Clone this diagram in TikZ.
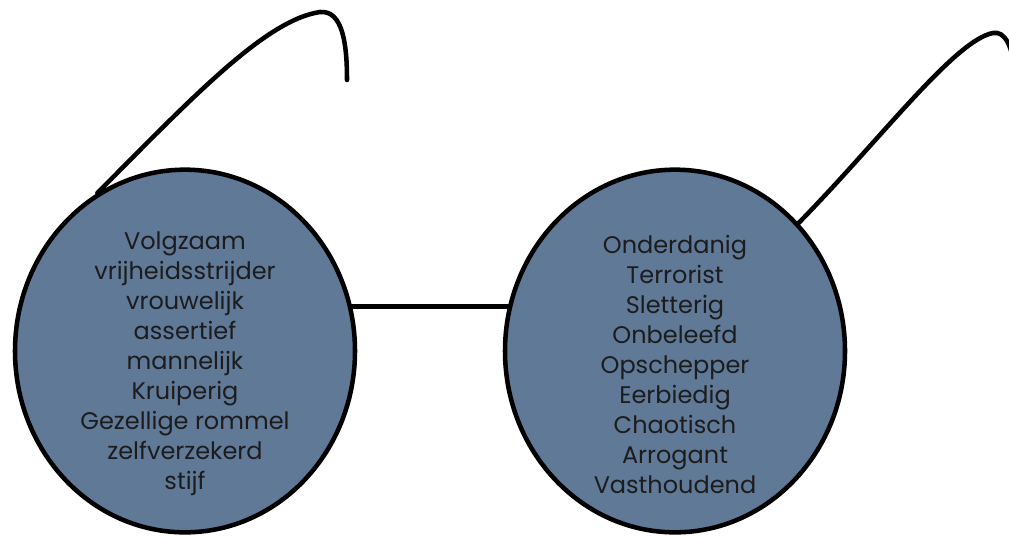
\documentclass[tikz,border=0pt]{standalone}
\usepackage{fontspec}
\setmainfont{Poppins}
\usetikzlibrary{shapes.geometric}
\definecolor{lensblue}{RGB}{96,121,150}
\definecolor{inkgray}{RGB}{28,28,30}
\tikzstyle{lens}=[ellipse,draw,line width=3.4pt,fill=lensblue,minimum width=255pt,minimum height=272pt,inner sep=0pt]
\tikzstyle{words}=[align=center,text=inkgray,font=\fontsize{18}{22.5}\selectfont,inner sep=0pt]
\tikzstyle{wire}=[line width=3.4pt,line cap=round]

\begin{document}
\begin{tikzpicture}[x=0.75pt,y=-0.75pt]
\useasboundingbox (0,0) rectangle (1009,537);
\clip (0,0) rectangle (1009,537);
\node[lens] at (185, 351) (lensL) {};
\node[lens] at (675, 351) (lensR) {};
\node[words] at (185, 364) (wordsL) {Volgzaam\\vrijheidsstrijder\\vrouwelijk\\assertief\\mannelijk\\Kruiperig\\Gezellige rommel\\zelfverzekerd\\stijf};
\node[words] at (675, 364) (wordsR) {Onderdanig\\Terrorist\\Sletterig\\Onbeleefd\\Opschepper\\Eerbiedig\\Chaotisch\\Arrogant\\Vasthoudend};
\coordinate (tipL) at (347, 80);
\coordinate (tipR) at (1016, 75);
\draw[wire] (lensL.15) -- (lensR.165);
\draw[wire] (lensL.119) .. controls (190, 100) and (265, 20) .. (320, 12) .. controls (343, 10) and (347, 45) .. (tipL);
\draw[wire] (lensR.46) .. controls (880, 140) and (955, 40) .. (993, 33) .. controls (1005, 31) and (1012, 45) .. (tipR);
\end{tikzpicture}
\end{document}
